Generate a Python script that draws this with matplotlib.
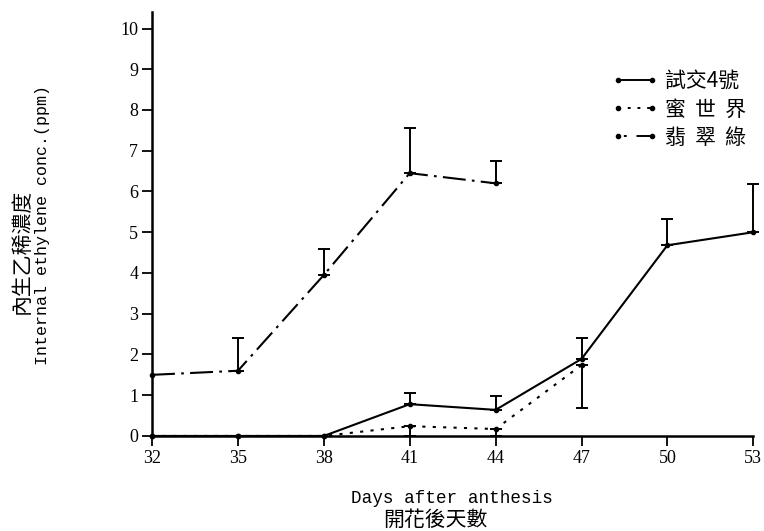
import matplotlib
matplotlib.use("Agg")
import matplotlib.pyplot as plt
from matplotlib.lines import Line2D

# ---- data ----
days = [32, 35, 38, 41, 44, 47, 50, 53]
shijiao = [0, 0, 0, 0.78, 0.64, 1.89, 4.68, 5.0]          # 試交4號
shijiao_up = [0, 0, 0, 0.27, 0.34, 0.51, 0.64, 1.18]
mi_days = [32, 35, 38, 41, 44, 47]
mi = [0, 0, 0, 0.24, 0.17, 1.74]                          # 蜜世界
mi_down = [0, 0, 0, 0.24, 0.17, 1.05]
fei_days = [32, 35, 38, 41, 44]
fei = [1.5, 1.6, 3.95, 6.45, 6.2]                         # 翡翠綠
fei_up = [0, 0.8, 0.65, 1.1, 0.55]
labels = ["試交4號", "蜜  世  界", "翡  翠  綠"]

CJK = ["Noto Sans CJK TC", "DejaVu Sans"]
SERIF = "Liberation Serif"
MONO = "Liberation Mono"
DOT = (0, (1.5, 3.5))
DASHDOT = (0, (11, 3, 1.3, 3))

fig = plt.figure(figsize=(7.64, 5.31), dpi=100)
ax = fig.add_axes([0.199, 0.179, 0.787, 0.798])
for s in ("top", "right"):
    ax.spines[s].set_visible(False)
for s in ("left", "bottom"):
    ax.spines[s].set_linewidth(1.8)


def series(x, y, lo, hi, ls):
    ax.plot(x, y, color="black", ls=ls, lw=1.5, marker="o", ms=3,
            clip_on=False, zorder=3)
    idx = [i for i in range(len(x)) if lo[i] > 0 or hi[i] > 0]
    ax.errorbar([x[i] for i in idx], [y[i] for i in idx],
                yerr=[[lo[i] for i in idx], [hi[i] for i in idx]],
                fmt="none", ecolor="black", elinewidth=1.4, capsize=4,
                capthick=1.4, clip_on=False, zorder=3)


series(days, shijiao, [0] * len(days), shijiao_up, "-")
series(mi_days, mi, mi_down, [0] * len(mi_days), DOT)
series(fei_days, fei, [0] * len(fei_days), fei_up, DASHDOT)

ax.set_xlim(32, 53)
ax.set_ylim(0, 10.4)
ax.set_xticks(days)
ax.set_yticks(range(0, 11))
ax.tick_params(direction="out", length=7, width=1.3, labelsize=13, pad=3)
for lab in ax.get_xticklabels() + ax.get_yticklabels():
    lab.set_family(SERIF)

# legend handles: dots at both ends of a short stroke
handles = [
    Line2D([], [], color="black", lw=1.4, ls="-", marker="o", ms=3),
    Line2D([], [], color="black", lw=1.4, ls=(0, (1.5, 3.5)), marker="o", ms=3),
    Line2D([], [], color="black", lw=1.4, ls=(30, (1.5, 5, 14, 5, 1.5, 6)),
           marker="o", ms=3),
]
fig.legend(handles, labels, loc="upper left", bbox_to_anchor=(0.801, 0.868),
           frameon=False, numpoints=2, handlelength=2.2, handletextpad=0.33,
           labelspacing=0.3, borderpad=0, borderaxespad=0,
           prop={"family": CJK, "size": 15})

fig.text(0.029, 0.527, "內生乙稀濃度", rotation=90, ha="center", va="center",
         family=CJK, size=15)
fig.text(0.055, 0.576, "Internal ethylene conc.(ppm)", rotation=90, ha="center",
         va="center", family=MONO, size=12)
fig.text(0.592, 0.062, "Days after anthesis", ha="center", va="center",
         family=MONO, size=12.7)
fig.text(0.57, 0.02, "開花後天數", ha="center", va="center", family=CJK, size=15)

fig.savefig("out.png", dpi=100, facecolor="white")
